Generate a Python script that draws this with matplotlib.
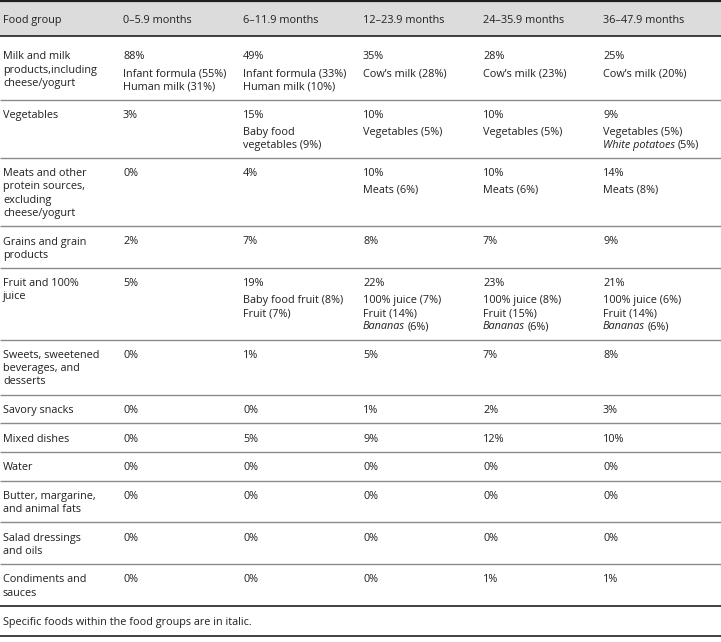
import matplotlib
matplotlib.use("Agg")
import matplotlib.pyplot as plt

# ---------------- data ----------------
header_label = "Food group"
age_groups = ["0–5.9 months", "6–11.9 months", "12–23.9 months",
              "24–35.9 months", "36–47.9 months"]

food_groups = [
    "Milk and milk\nproducts,including\ncheese/yogurt",
    "Vegetables",
    "Meats and other\nprotein sources,\nexcluding\ncheese/yogurt",
    "Grains and grain\nproducts",
    "Fruit and 100%\njuice",
    "Sweets, sweetened\nbeverages, and\ndesserts",
    "Savory snacks",
    "Mixed dishes",
    "Water",
    "Butter, margarine,\nand animal fats",
    "Salad dressings\nand oils",
    "Condiments and\nsauces",
]

pct_0_5 = [88, 3, 0, 2, 5, 0, 0, 0, 0, 0, 0, 0]
pct_6_11 = [49, 15, 4, 7, 19, 1, 0, 5, 0, 0, 0, 0]
pct_12_23 = [35, 10, 10, 8, 22, 5, 1, 9, 0, 0, 0, 0]
pct_24_35 = [28, 10, 10, 7, 23, 7, 2, 12, 0, 0, 0, 1]
pct_36_47 = [25, 9, 14, 9, 21, 8, 3, 10, 0, 0, 0, 1]

# details: row index -> list of (food, percent, italic)
detail_0_5 = {0: [("Infant formula", 55, False), ("Human milk", 31, False)]}
detail_6_11 = {0: [("Infant formula", 33, False), ("Human milk", 10, False)],
               1: [("Baby food\nvegetables", 9, False)],
               4: [("Baby food fruit", 8, False), ("Fruit", 7, False)]}
detail_12_23 = {0: [("Cow’s milk", 28, False)],
                1: [("Vegetables", 5, False)],
                2: [("Meats", 6, False)],
                4: [("100% juice", 7, False), ("Fruit", 14, False), ("Bananas", 6, True)]}
detail_24_35 = {0: [("Cow’s milk", 23, False)],
                1: [("Vegetables", 5, False)],
                2: [("Meats", 6, False)],
                4: [("100% juice", 8, False), ("Fruit", 15, False), ("Bananas", 6, True)]}
detail_36_47 = {0: [("Cow’s milk", 20, False)],
                1: [("Vegetables", 5, False), ("White potatoes", 5, True)],
                2: [("Meats", 8, False)],
                4: [("100% juice", 6, False), ("Fruit", 14, False), ("Bananas", 6, True)]}

footnote = "Specific foods within the food groups are in italic."

# ---------------- layout ----------------
W, H = 721, 642
FONT = "Open Sans"
FS = 7.8
TXT = "#231f20"
LH = 13.2          # line height (px)
GAP = 3.5          # extra gap between total and detail lines
TOP_PAD = 14.3
BOT_PAD = 14.3

pcts = [pct_0_5, pct_6_11, pct_12_23, pct_24_35, pct_36_47]
details = [detail_0_5, detail_6_11, detail_12_23, detail_24_35, detail_36_47]
col_x = [3, 123, 243, 363, 483, 603]

fig = plt.figure(figsize=(W / 100, H / 100), dpi=100)
ax = fig.add_axes([0, 0, 1, 1])
ax.set_xlim(0, W)
ax.set_ylim(H, 0)
ax.axis("off")
renderer = fig.canvas.get_renderer()


def put(x, y, s, italic=False):
    return ax.text(x, y, s, fontsize=FS, family=FONT, color=TXT,
                   style="italic" if italic else "normal",
                   ha="left", va="center_baseline")


def hline(y, color, lw):
    ax.plot([0, W], [y, y], color=color, lw=lw, solid_capstyle="butt")


# header band
header_h = 36
ax.add_patch(plt.Rectangle((0, 1), W, header_h - 1, color="#dcdcdc", lw=0))
put(col_x[0], 19, header_label)
for c, a in enumerate(age_groups):
    put(col_x[c + 1], 19, a)
hline(1, TXT, 1.6)
hline(header_h, TXT, 1.2)

# body rows
y_top = header_h
for r, label in enumerate(food_groups):
    first = TOP_PAD + (5 if r == 0 else 0)
    lab_lines = label.split("\n")
    row_h = first + (len(lab_lines) - 1) * LH + BOT_PAD
    for c in range(5):
        det = details[c].get(r, [])
        nd = sum(len(d[0].split("\n")) for d in det)
        if det:
            row_h = max(row_h, first + nd * LH + GAP + BOT_PAD)

    y0 = y_top + first
    for i, ln in enumerate(lab_lines):
        put(col_x[0], y0 + i * LH, ln)
    for c in range(5):
        x = col_x[c + 1]
        put(x, y0, f"{pcts[c][r]}%")
        yy = y0 + LH + GAP
        for name, p, ital in details[c].get(r, []):
            parts = name.split("\n")
            for k, part in enumerate(parts):
                if k < len(parts) - 1:
                    put(x, yy, part, italic=ital)
                else:
                    if ital:
                        t = put(x, yy, part, italic=True)
                        bb = t.get_window_extent(renderer)
                        put(bb.x1 + 2.5, yy, f"({p}%)")
                    else:
                        put(x, yy, f"{part} ({p}%)")
                yy += LH
    y_top += row_h
    if r == len(food_groups) - 1:
        hline(y_top, TXT, 1.2)
    else:
        hline(y_top, "#8a8a8a", 1.0)

# footnote
put(col_x[0], y_top + 15, footnote)
hline(y_top + 30, TXT, 1.2)

fig.savefig("out.png", dpi=100)
